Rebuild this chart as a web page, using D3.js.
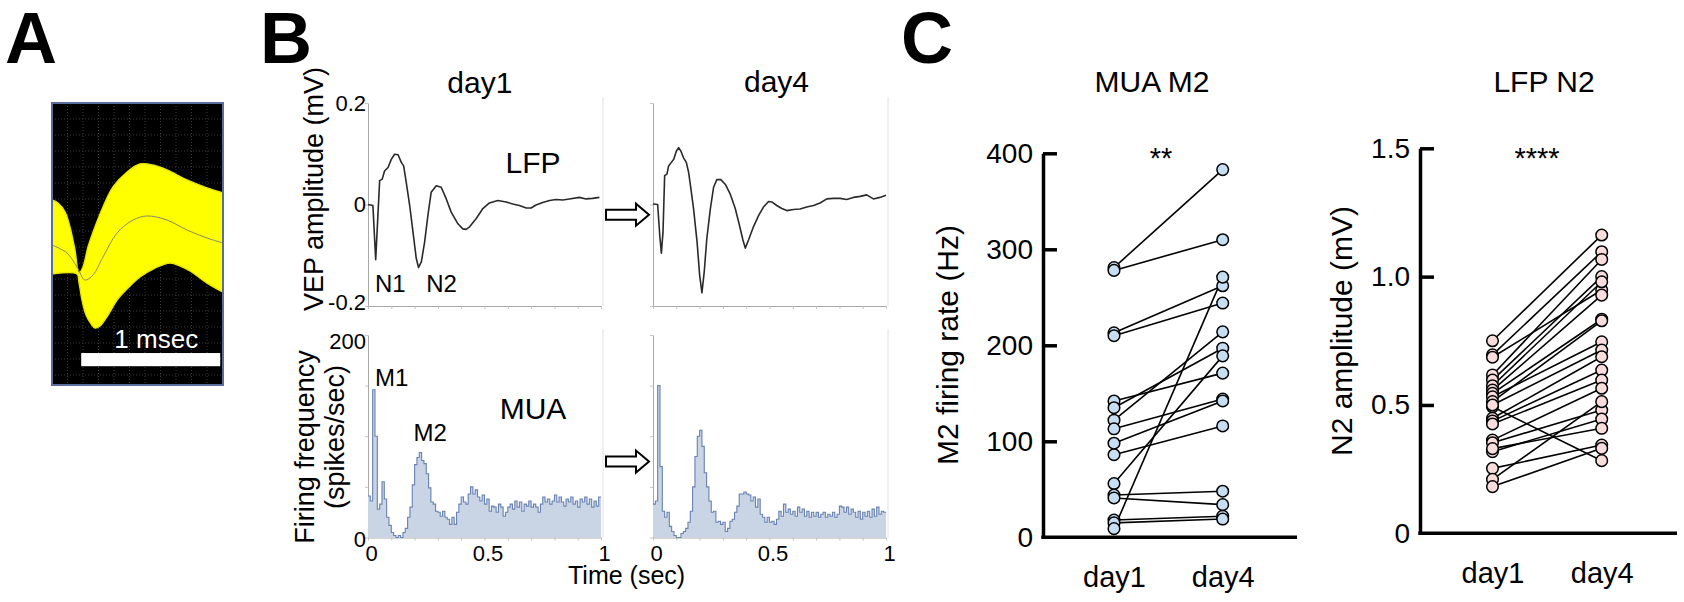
<!DOCTYPE html>
<html>
<head>
<meta charset="utf-8">
<script src="https://cdn.jsdelivr.net/npm/d3@7"></script>
<style>
  body { margin: 0; background: #fff; }
  text { font-family: "Liberation Sans", Arial, sans-serif; }
</style>
</head>
<body>
<svg id="fig" width="1684" height="602"></svg>
<script>
// ---------- data ----------

// A: spike waveform envelope (time in ms, amplitude in uV)
let spikeUpper = [[0,46.8],[0.043,43.6],[0.094,34.0],[0.129,18.1],[0.165,-6.4],[0.194,-30.9],[0.223,-24.5],
  [0.259,-3.2],[0.309,18.1],[0.367,39.4],[0.439,60.6],[0.540,76.6],[0.633,85.1],[0.727,84.0],[0.827,78.7],
  [0.971,68.1],[1.115,59.6],[1.230,54.3]];
let spikeLower = [[0,-31.9],[0.180,-31.9],[0.194,-40.4],[0.216,-59.6],[0.245,-75.5],[0.273,-83.0],[0.309,-89.4],
  [0.345,-87.2],[0.403,-75.5],[0.468,-59.6],[0.547,-46.8],[0.633,-35.1],[0.741,-25.5],[0.849,-20.2],
  [0.921,-23.4],[0.993,-28.7],[1.115,-41.5],[1.230,-51.1]];
let spikeMean = [[0,-1.1],[0.108,-9.6],[0.180,-24.5],[0.237,-38.3],[0.295,-33.0],[0.367,-13.8],[0.468,11.7],
  [0.583,25.5],[0.683,29.8],[0.827,25.5],[0.971,14.9],[1.115,6.4],[1.230,1.1]];

// B: LFP traces (time in s, mV)
let lfpDay1 = [[0,0],[0.021,-0.002],[0.033,-0.109],[0.05,0.047],[0.061,0.050],[0.071,0.066],[0.086,0.073],
  [0.1,0.089],[0.114,0.099],[0.129,0.098],[0.143,0.083],[0.153,0.076],[0.164,0.044],[0.179,-0.002],
  [0.193,-0.054],[0.207,-0.106],[0.217,-0.124],[0.229,-0.113],[0.243,-0.074],[0.257,-0.022],[0.271,0.024],
  [0.293,0.037],[0.314,0.034],[0.336,0.011],[0.357,-0.015],[0.386,-0.038],[0.407,-0.048],[0.421,-0.049],
  [0.436,-0.044],[0.464,-0.028],[0.493,-0.008],[0.521,0.003],[0.557,0.008],[0.593,0.005],[0.621,0.001],
  [0.650,-0.002],[0.679,-0.007],[0.700,-0.007],[0.721,-0.001],[0.750,0.004],[0.779,0.008],[0.807,0.010],
  [0.836,0.009],[0.864,0.011],[0.907,0.014],[0.936,0.011],[0.964,0.012],[0.993,0.014]];
let lfpDay4 = [[0,0.001],[0.020,0],[0.029,-0.061],[0.036,-0.096],[0.043,-0.054],[0.050,0.057],[0.060,0.060],
  [0.067,0.076],[0.077,0.082],[0.089,0.089],[0.100,0.105],[0.110,0.112],[0.120,0.105],[0.131,0.092],
  [0.143,0.083],[0.153,0.063],[0.163,0.030],[0.174,-0.008],[0.189,-0.073],[0.200,-0.138],[0.210,-0.174],
  [0.220,-0.132],[0.231,-0.067],[0.246,-0.009],[0.260,0.034],[0.274,0.049],[0.291,0.049],[0.310,0.040],
  [0.331,0.021],[0.353,-0.008],[0.371,-0.041],[0.386,-0.070],[0.396,-0.086],[0.410,-0.070],[0.431,-0.044],
  [0.453,-0.022],[0.474,-0.005],[0.496,0.006],[0.510,0.005],[0.531,-0.002],[0.553,-0.008],[0.574,-0.012],
  [0.603,-0.010],[0.631,-0.009],[0.660,-0.005],[0.689,-0.002],[0.717,0.003],[0.746,0.011],[0.774,0.012],
  [0.803,0.012],[0.831,0.010],[0.860,0.014],[0.889,0.016],[0.917,0.019],[0.946,0.011],[0.974,0.014],[1.0,0.018]];

// B: MUA histograms, 10 ms bins (spikes/sec)
let binWidth = 0.01;
let muaDay1 = [41,36,146,100,28,33,55,38,20,12, 5,2,0,2,0,5,9,20,30,52,
  72,79,84,76,73,63,49,35,33,26, 25,21,26,20,18,13,20,13,25,33,
  40,35,33,43,50,43,47,40,36,42, 33,38,26,31,30,25,33,30,21,25,
  30,33,28,36,30,35,26,33,31,36, 30,33,30,25,33,40,35,38,33,36,
  42,35,40,35,31,38,35,40,33,36, 30,38,35,40,33,38,30,36,31,40];
let muaDay4 = [33,36,150,70,26,20,25,11,6,2, 0,0,4,6,9,15,26,50,80,100,
  106,90,64,50,36,25,26,15,16,13, 15,6,9,16,18,25,31,43,43,45,
  43,42,36,40,30,38,23,20,15,20, 15,16,13,18,26,21,33,25,28,23,
  26,21,30,25,28,21,26,20,25,21, 25,20,23,25,20,23,21,25,20,23,
  31,30,25,30,23,28,25,20,26,18, 25,21,26,20,28,21,30,23,26,25];

// C: paired values
let days = ["day1", "day4"];
let m2Day1 = [281, 278, 213, 210, 142, 135, 122, 113, 98, 86, 56, 44, 41, 18, 15, 9];
let m2Day4 = [383, 310, 262, 244, 171, 197, 214, 144, 142, 116, 189, 48, 34, 22, 19, 271];
let n2Day1 = [0.750, 0.695, 0.686, 0.617, 0.597, 0.575, 0.558, 0.545, 0.532, 0.513, 0.493,
  0.500, 0.448, 0.437, 0.426, 0.363, 0.353, 0.318, 0.330, 0.253, 0.210, 0.182];
let n2Day4 = [1.162, 1.097, 0.948, 1.067, 1.000, 0.980, 0.928, 0.834, 0.746, 0.828, 0.283,
  0.714, 0.688, 0.636, 0.597, 0.565, 0.480, 0.445, 0.409, 0.344, 0.513, 0.331];

let svg = d3.select("#fig");

// panel letters
[["A", 5], ["B", 260], ["C", 901]].forEach(([t, x]) => {
  svg.append("text").attr("x", x).attr("y", 63).text(t)
    .attr("font-size", 72).attr("font-weight", "bold");
});

// ---------- A: spike waveforms ----------
let xA = d3.scaleLinear().domain([0, 1.23]).range([52, 223]);
let yA = d3.scaleLinear().domain([-150, 150]).range([385, 103]);
let gA = svg.append("g");

gA.append("rect").attr("x", xA(0)).attr("y", yA(150))
  .attr("width", xA(1.23) - xA(0)).attr("height", yA(-150) - yA(150)).attr("fill", "#000");

// scope grid
d3.range(xA(0) + 15.5, xA(1.23), 15.5).forEach(x => {
  gA.append("line").attr("x1", x).attr("x2", x).attr("y1", yA(150)).attr("y2", yA(-150))
    .attr("stroke", "#3c3c3c").attr("stroke-dasharray", "1,2");
});
d3.range(yA(150) + 16, yA(-150), 16).forEach(y => {
  gA.append("line").attr("x1", xA(0)).attr("x2", xA(1.23)).attr("y1", y).attr("y2", y)
    .attr("stroke", "#3c3c3c").attr("stroke-dasharray", "1,2");
});

let lineA = d3.line().x(d => xA(d[0])).y(d => yA(d[1])).curve(d3.curveCatmullRom);
let band = lineA(spikeUpper) + "L" + lineA(spikeLower.slice().reverse()).slice(1) + "Z";
gA.append("path").attr("d", band).attr("fill", "#ffff00")
  .attr("stroke", "#e8e800").attr("stroke-width", 1.5);
gA.append("path").attr("d", lineA(spikeMean)).attr("fill", "none")
  .attr("stroke", "#8c8a62").attr("stroke-width", 1);

gA.append("rect").attr("x", xA(0)).attr("y", yA(150))
  .attr("width", xA(1.23) - xA(0)).attr("height", yA(-150) - yA(150))
  .attr("fill", "none").attr("stroke", "#5a6d9c").attr("stroke-width", 2);

// 1 msec scale bar
gA.append("rect").attr("x", xA(0.21)).attr("y", yA(-116))
  .attr("width", xA(1.21) - xA(0.21)).attr("height", yA(-130) - yA(-116)).attr("fill", "#fff");
gA.append("text").attr("x", xA(0.75)).attr("y", yA(-111)).attr("text-anchor", "middle")
  .attr("fill", "#fff").attr("font-size", 26).text("1 msec");

// ---------- B: LFP and MUA ----------
let xL1 = d3.scaleLinear().domain([0, 1]).range([368, 601]);
let xL4 = d3.scaleLinear().domain([0, 1]).range([653, 886]);
let yL = d3.scaleLinear().domain([-0.2, 0.2]).range([306, 103]);
let yM = d3.scaleLinear().domain([0, 200]).range([537.5, 335]);
let gB = svg.append("g");

let drawFrame = (x, y, yTicks, yMinor, yLabels, labelShift) => {
  let g = gB.append("g");
  // faint right border
  g.append("line").attr("x1", x.range()[1] + 2).attr("x2", x.range()[1] + 2)
    .attr("y1", y.range()[1] - 6).attr("y2", y.range()[0])
    .attr("stroke", "#e2e2e2").attr("stroke-width", 1);
  let ax = g.append("g").attr("transform", `translate(0,${y.range()[0]})`)
    .call(d3.axisBottom(x).tickValues(d3.range(0, 1.01, 0.1)).tickSize(3).tickFormat("").tickSizeOuter(0));
  let ay = g.append("g").attr("transform", `translate(${x.range()[0]},0)`)
    .call(d3.axisLeft(y).tickValues(yMinor).tickSize(3).tickFormat("").tickSizeOuter(0));
  [ax, ay].forEach(a => {
    a.select(".domain").attr("stroke", "#a9a9a9");
    a.selectAll(".tick line").attr("stroke", "#c4c4c4");
  });
  if (yLabels) {
    let lab = g.append("g").attr("transform", `translate(${x.range()[0]},0)`)
      .call(d3.axisLeft(y).tickValues(yTicks).tickSize(0).tickPadding(2)
        .tickFormat(d => d === 0 ? "0" : String(d)));
    lab.select(".domain").remove();
    lab.selectAll("text").attr("font-size", 22).attr("fill", "#000")
      .attr("y", d => labelShift ? labelShift(d) : 0);
  }
};

drawFrame(xL1, yL, [-0.2, 0, 0.2], [-0.2, 0, 0.2], true, d => d < 0 ? -4 : 0);
drawFrame(xL4, yL, [], [-0.2, 0, 0.2], false);
drawFrame(xL1, yM, [0, 200], [0, 50, 100, 150, 200], true, d => d > 0 ? 6 : 2);
drawFrame(xL4, yM, [], [0, 50, 100, 150, 200], false);

// LFP traces
[[xL1, lfpDay1], [xL4, lfpDay4]].forEach(([x, data]) => {
  gB.append("path")
    .attr("d", d3.line().x(d => x(d[0])).y(d => yL(d[1]))(data))
    .attr("fill", "none").attr("stroke", "#2a2a2a").attr("stroke-width", 1.6)
    .attr("stroke-linejoin", "round");
});

// MUA histograms
[[xL1, muaDay1], [xL4, muaDay4]].forEach(([x, vals]) => {
  let data = vals.map((v, i) => [i * binWidth, v]);
  data.push([vals.length * binWidth, vals[vals.length - 1]]);
  gB.append("path")
    .attr("d", d3.area().x(d => x(d[0])).y0(yM(0)).y1(d => yM(d[1])).curve(d3.curveStepAfter)(data))
    .attr("fill", "#c9d4e5");
  gB.append("path")
    .attr("d", d3.line().x(d => x(d[0])).y(d => yM(d[1])).curve(d3.curveStepAfter)(data))
    .attr("fill", "none").attr("stroke", "#6882b3").attr("stroke-width", 1.1);
});

// x tick labels under MUA
[xL1, xL4].forEach(x => {
  let lab = gB.append("g").attr("transform", `translate(3,${yM(0)})`)
    .call(d3.axisBottom(x).tickValues([0, 0.5, 1]).tickSize(0).tickPadding(8)
      .tickFormat(d => String(d)));
  lab.select(".domain").remove();
  lab.selectAll("text").attr("font-size", 22).attr("fill", "#000");
});

// hollow arrows between day1 and day4
let arrow = "M0,-5H30V-11L43,0L30,11V5H0Z";
[yL(-0.02), yM(75)].forEach(cy => {
  gB.append("path").attr("d", arrow)
    .attr("transform", `translate(${xL1.range()[1] + 5},${cy})`)
    .attr("fill", "#fff").attr("stroke", "#000").attr("stroke-width", 2);
});

// panel B text
let addText = (g, x, y, t, size, anchor) =>
  g.append("text").attr("x", x).attr("y", y).attr("font-size", size)
    .attr("text-anchor", anchor || "start").text(t);

addText(gB, xL1(0.48), 93, "day1", 30, "middle");
addText(gB, xL4(0.53), 92, "day4", 30, "middle");
addText(gB, xL1(0.59), 173, "LFP", 30);
addText(gB, xL1(0.565), 419, "MUA", 30);
addText(gB, xL1(0.03), 292, "N1", 24);
addText(gB, xL1(0.25), 292, "N2", 24);
addText(gB, xL1(0.03), 386, "M1", 24);
addText(gB, xL1(0.195), 441, "M2", 24);
addText(gB, 568, 584, "Time (sec)", 25);

gB.append("text").attr("transform", "translate(323,189) rotate(-90)")
  .attr("text-anchor", "middle").attr("font-size", 27).text("VEP amplitude (mV)");
gB.append("text").attr("transform", "translate(314,447) rotate(-90)")
  .attr("text-anchor", "middle").attr("font-size", 27).text("Firing frequency");
gB.append("text").attr("transform", "translate(344,437) rotate(-90)")
  .attr("text-anchor", "middle").attr("font-size", 27).text("(spikes/sec)");

// ---------- C: paired comparisons ----------
let pairedPlot = (opt) => {
  let g = svg.append("g");
  let x = d3.scalePoint().domain(days).range(opt.points);
  let y = opt.y;

  // lines
  opt.d1.forEach((v, i) => {
    g.append("line").attr("x1", x("day1")).attr("y1", y(v))
      .attr("x2", x("day4")).attr("y2", y(opt.d4[i]))
      .attr("stroke", "#000").attr("stroke-width", 1.6);
  });
  [["day1", opt.d1], ["day4", opt.d4]].forEach(([day, vals]) => {
    g.selectAll(null).data(vals).enter().append("circle")
      .attr("cx", x(day)).attr("cy", d => y(d)).attr("r", 5.8)
      .attr("fill", opt.fill).attr("stroke", "#000").attr("stroke-width", 1.5);
  });

  // axes
  let ay = g.append("g").attr("transform", `translate(${opt.axisX},0)`)
    .call(d3.axisLeft(y).tickValues(opt.ticks).tickFormat(opt.format)
      .tickSizeInner(-14).tickSizeOuter(0).tickPadding(10));
  ay.select(".domain").attr("stroke-width", 3.5).attr("stroke", "#000");
  ay.selectAll(".tick line").attr("stroke-width", 3.5).attr("stroke", "#000");
  ay.selectAll(".tick").filter(d => d === 0).select("line").remove();
  ay.selectAll("text").attr("font-size", 28).attr("fill", "#000");

  g.append("line").attr("x1", opt.axisX - 1.75).attr("x2", opt.axisEnd)
    .attr("y1", y(0)).attr("y2", y(0)).attr("stroke", "#000").attr("stroke-width", 3.5);

  let ax = g.append("g").attr("transform", `translate(0,${y(0)})`)
    .call(d3.axisBottom(x).tickSize(0).tickPadding(29));
  ax.select(".domain").remove();
  ax.selectAll("text").attr("font-size", 29).attr("fill", "#000");

  addText(g, opt.titleX, 92, opt.title, 30, "middle");
  addText(g, opt.starX, 168, opt.stars, 29, "middle");
  g.append("text").attr("transform", `translate(${opt.yTitleX},${opt.yTitleY}) rotate(-90)`)
    .attr("text-anchor", "middle").attr("font-size", 30).text(opt.yTitle);
};

pairedPlot({
  points: [1114, 1222.7],
  y: d3.scaleLinear().domain([0, 400]).range([537.3, 153.3]),
  ticks: [0, 100, 200, 300, 400], format: d3.format("d"),
  d1: m2Day1, d4: m2Day4, fill: "#c6ddf2",
  axisX: 1043, axisEnd: 1297,
  title: "MUA M2", titleX: 1152, stars: "**", starX: 1161,
  yTitle: "M2 firing rate (Hz)", yTitleX: 958, yTitleY: 345
});

pairedPlot({
  points: [1492.5, 1601.7],
  y: d3.scaleLinear().domain([0, 1.5]).range([533.3, 148.3]),
  ticks: [0, 0.5, 1.0, 1.5], format: d => d === 0 ? "0" : d3.format(".1f")(d),
  d1: n2Day1, d4: n2Day4, fill: "#f9dcdc",
  axisX: 1420, axisEnd: 1677,
  title: "LFP N2", titleX: 1544, stars: "****", starX: 1537,
  yTitle: "N2 amplitude (mV)", yTitleX: 1352, yTitleY: 331
});
</script>
</body>
</html>
